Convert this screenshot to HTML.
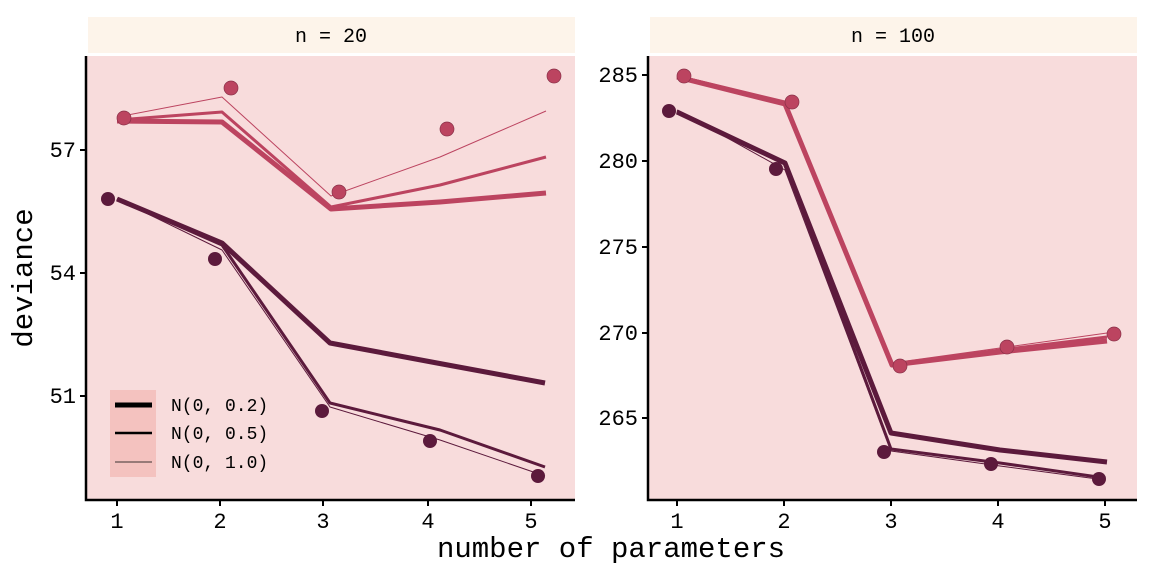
<!DOCTYPE html>
<html><head><meta charset="utf-8"><style>
body{margin:0;background:#fff;}
svg text{font-family:"Liberation Mono","DejaVu Sans Mono",monospace;fill:#000;}
</style></head><body>
<svg width="1152" height="576" viewBox="0 0 1152 576" xmlns="http://www.w3.org/2000/svg">
<rect x="88" y="17" width="487" height="36" fill="#fdf4ea"/>
<rect x="650" y="17" width="487" height="36" fill="#fdf4ea"/>
<text x="331" y="42" font-size="20" text-anchor="middle">n = 20</text>
<text x="893" y="42" font-size="20" text-anchor="middle">n = 100</text>
<rect x="87" y="56" width="488" height="443" fill="#f8dcdc"/>
<rect x="649" y="56" width="488" height="443" fill="#f8dcdc"/>
<g stroke="#000" stroke-width="2.5" fill="none">
<path d="M86,56V500H575"/>
<path d="M648,56V500H1137"/>
</g>
<g stroke="#000" stroke-width="2">
<path d="M80,150H86M80,273H86M80,396H86"/>
<path d="M117,500V506M220,500V506M323,500V506M428,500V506M531,500V506"/>
<path d="M642,75H648M642,161H648M642,247H648M642,333H648M642,418H648"/>
<path d="M677,500V506M784,500V506M891,500V506M998,500V506M1105,500V506"/>
</g>
<g font-size="22" text-anchor="end">
<text x="76" y="157">57</text><text x="76" y="280">54</text><text x="76" y="403">51</text>
<text x="638" y="82">285</text><text x="638" y="168">280</text><text x="638" y="254">275</text><text x="638" y="340">270</text><text x="638" y="425">265</text>
</g>
<g font-size="22" text-anchor="middle">
<text x="117" y="528">1</text><text x="220" y="528">2</text><text x="323" y="528">3</text><text x="428" y="528">4</text><text x="531" y="528">5</text>
<text x="677" y="528">1</text><text x="784" y="528">2</text><text x="891" y="528">3</text><text x="998" y="528">4</text><text x="1105" y="528">5</text>
</g>
<text x="611" y="557" font-size="29" text-anchor="middle">number of parameters</text>
<text transform="translate(32,278) rotate(-90)" font-size="29" text-anchor="middle">deviance</text>
<g fill="none" stroke="#bc4460" stroke-linejoin="round">
<polyline stroke-width="5" points="117,121 222,122 331,209 440,202 546,193"/>
<polyline stroke-width="3" points="117,120 222,112 331,207 440,185 546,157"/>
<polyline stroke-width="1" points="117,117 222,97 331,196 440,157 546,111"/>
</g>
<g fill="none" stroke="#5c1a3c" stroke-linejoin="round">
<polyline stroke-width="5" points="117,199 222,243 330,343 437,363 545,383"/>
<polyline stroke-width="3" points="117,199 222,245 330,403 440,430 545,467"/>
<polyline stroke-width="1" points="117,199 222,250 330,407 440,440 545,476"/>
</g>
<g fill="#bc4460" stroke="#8a3048" stroke-width="0.7">
<circle cx="124" cy="118" r="7"/><circle cx="231" cy="88" r="7"/><circle cx="339" cy="192" r="7"/><circle cx="447" cy="129" r="7"/><circle cx="554" cy="76" r="7"/>
</g>
<g fill="#5c1a3c">
<circle cx="108" cy="199" r="7"/><circle cx="215" cy="259" r="7"/><circle cx="322" cy="411" r="7"/><circle cx="430" cy="441" r="7"/><circle cx="538" cy="476" r="7"/>
</g>
<g fill="none" stroke="#bc4460" stroke-linejoin="round">
<polyline stroke-width="5" points="677,77 785,104 892,365 1000,352 1107,341"/>
<polyline stroke-width="3" points="677,76 785,103 892,364 1000,350 1107,337"/>
<polyline stroke-width="1" points="677,75 785,101 892,363 1000,348 1107,333"/>
</g>
<g fill="none" stroke="#5c1a3c" stroke-linejoin="round">
<polyline stroke-width="5" points="677,112 785,163 891,433 1000,450 1107,462"/>
<polyline stroke-width="3" points="677,111 785,164 891,449 1000,463 1105,478"/>
<polyline stroke-width="1" points="677,110 785,170 891,451 1000,466 1105,480"/>
</g>
<g fill="#bc4460" stroke="#8a3048" stroke-width="0.7">
<circle cx="684" cy="76" r="7"/><circle cx="792" cy="102" r="7"/><circle cx="900" cy="366" r="7"/><circle cx="1007" cy="347" r="7"/><circle cx="1114" cy="334" r="7"/>
</g>
<g fill="#5c1a3c">
<circle cx="669" cy="111" r="7"/><circle cx="776" cy="169" r="7"/><circle cx="884" cy="452" r="7"/><circle cx="991" cy="464" r="7"/><circle cx="1099" cy="479" r="7"/>
</g>
<rect x="110" y="390" width="46" height="87" fill="#f4c2bf"/>
<g stroke="#000">
<path d="M115,405H152" stroke-width="5"/>
<path d="M115,433H152" stroke-width="2.5"/>
<path d="M115,462H152" stroke-width="0.8"/>
</g>
<g font-size="18">
<text x="171" y="411">N(0, 0.2)</text>
<text x="171" y="439">N(0, 0.5)</text>
<text x="171" y="468">N(0, 1.0)</text>
</g>
</svg>
</body></html>
